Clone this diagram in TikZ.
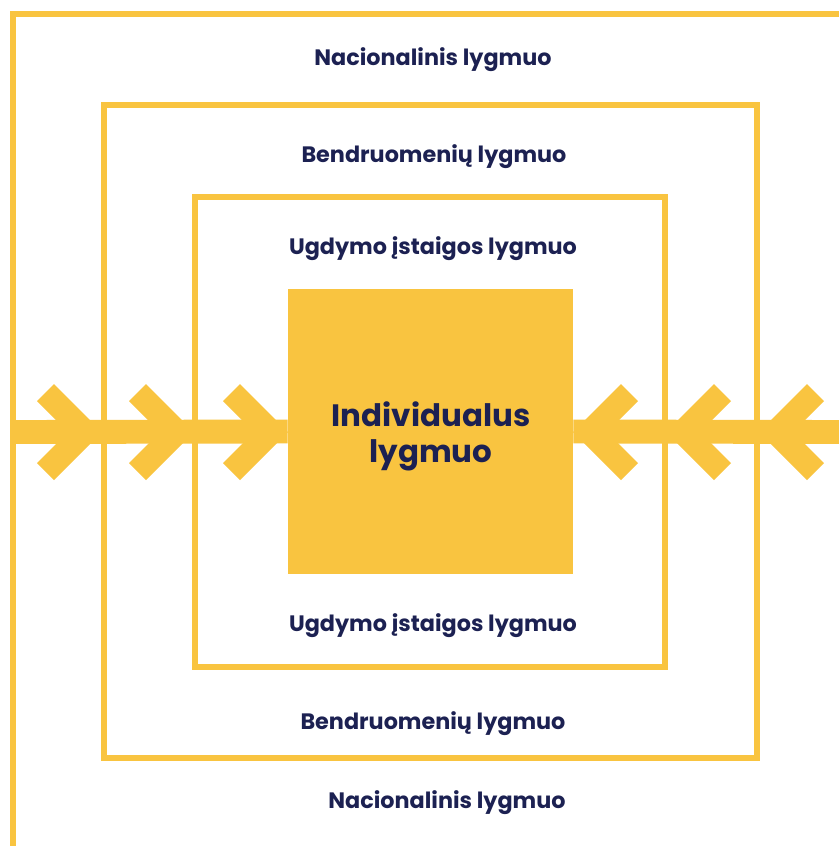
\documentclass[tikz,border=0pt]{standalone}
\usepackage{tikz}
\usetikzlibrary{positioning}
\usepackage{fontspec}
\newfontfamily\levelfont{Poppins}
\usepackage{xcolor}
\definecolor{levelyellow}{RGB}{249, 196, 64}
\definecolor{levelnavy}{RGB}{28, 33, 82}
\tikzset{
    level frame/.style={
        draw=levelyellow,
        line width=3.1pt
    },
    level label/.style={
        font=\levelfont\bfseries\fontsize{12.7}{14}\selectfont,
        text=levelnavy,
        inner sep=0pt
    },
    core box/.style={
        rectangle,
        fill=levelyellow,
        minimum size=5.7cm
    },
    core label/.style={
        align=center,
        inner sep=0pt,
        font=\levelfont\bfseries\fontsize{17.6}{20.5}\selectfont,
        text=levelnavy
    },
    flow bar/.style={
        draw=levelyellow,
        line width=13.6pt
    },
    chevron/.style={
        fill=levelyellow
    }
}

\begin{document}
\begin{tikzpicture}[x=0.02cm, y=-0.02cm]

\useasboundingbox (0, 0) rectangle (839, 846);
\clip (0, 0) rectangle (839, 846);
\fill[white] (0, 0) rectangle (839, 846);

% Frames
\draw[level frame] (13, 14) rectangle (900, 900);
\draw[level frame] (104, 105) rectangle (757, 758);
\draw[level frame] (195, 197) rectangle (665, 667);

% Core
\node[core box] (indiv) at (430.5, 431.5) {};
\node[core label] (indiv text) at (431, 436) {Individualus\\lygmuo};

% Labels
\node[level label] (nat top) at (433, 60) {Nacionalinis lygmuo};
\node[level label] (com top) at (434, 157) {Bendruomenių lygmuo};
\node[level label] (sch top) at (433, 249) {Ugdymo įstaigos lygmuo};
\node[level label] (sch bot) at (433, 626) {Ugdymo įstaigos lygmuo};
\node[level label] (com bot) at (433, 724) {Bendruomenių lygmuo};
\node[level label] (nat bot) at (447, 803) {Nacionalinis lygmuo};

% Flow bars
\draw[flow bar] (13, 432) -- (indiv.west);
\draw[flow bar] (indiv.east) -- (845, 432);

% Chevrons from the left
\foreach \tip in {102, 194, 288} {
    \fill[chevron] (\tip, 432) -- (\tip-48, 384) -- (\tip-65, 401) -- (\tip-34, 432)
        -- (\tip-65, 463) -- (\tip-48, 480) -- cycle;
}

% Chevrons from the right
\foreach \tip in {573, 666, 759} {
    \fill[chevron] (\tip, 432) -- (\tip+48, 384) -- (\tip+65, 401) -- (\tip+34, 432)
        -- (\tip+65, 463) -- (\tip+48, 480) -- cycle;
}

\end{tikzpicture}
\end{document}
